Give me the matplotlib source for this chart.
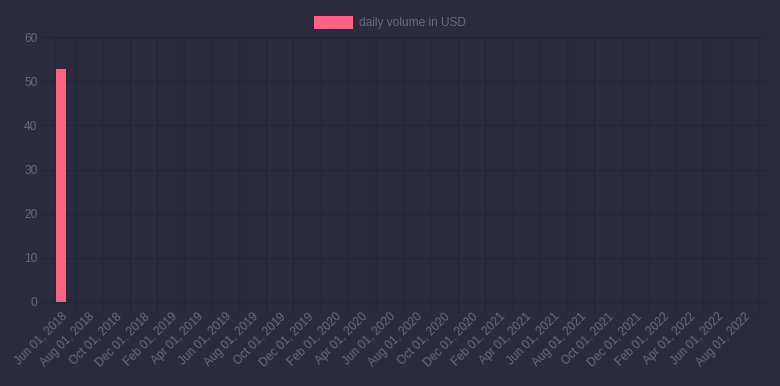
import matplotlib

matplotlib.use("Agg")
import matplotlib.pyplot as plt
import matplotlib.dates as mdates
import numpy as np
import pandas as pd

BG = "#2b2b40"
GRID = "#24243a"
TEXT = "#6b6b78"
BAR = "#ff6384"

plt.rcParams.update({
    "font.family": ["Liberation Sans", "DejaVu Sans"],
    "font.size": 8.6,
})

# data
dates = pd.to_datetime(["2018-06-01"])
volume_usd = [52.7]
series_label = "daily volume in USD"

tick_dates = pd.date_range("2018-06-01", "2022-08-01", freq="2MS")
y_ticks = [0, 10, 20, 30, 40, 50, 60]

fig = plt.figure(figsize=(7.8, 3.86), dpi=100, facecolor=BG)
ax = fig.add_axes([54 / 780, 84 / 386, 711 / 780, 265 / 386])
ax.set_facecolor(BG)

x = mdates.date2num(dates)
ax.bar(x, volume_usd, width=22, color=BAR, zorder=3, label=series_label)

# gridlines sit between the labelled ticks
tnum = mdates.date2num(tick_dates)
last = mdates.date2num(pd.Timestamp("2022-10-01"))
tnum_ext = np.append(tnum, last)
grid_x = (tnum_ext[:-1] + tnum_ext[1:]) / 2
ax.set_xticks(grid_x, minor=True)
ax.set_xticks(tnum)
ax.set_xticklabels([d.strftime("%b %d, %Y") for d in tick_dates],
                   rotation=45, ha="right", rotation_mode="anchor",
                   color=TEXT)
ax.tick_params(axis="x", which="major", length=0, pad=6)
ax.tick_params(axis="x", which="minor", length=8, color=GRID, width=1)
ax.grid(axis="x", which="minor", color=GRID, lw=1, zorder=0)

ax.set_xlim(mdates.date2num(pd.Timestamp("2018-05-16")),
            mdates.date2num(pd.Timestamp("2022-09-16")))

ax.set_ylim(0, 60)
ax.set_yticks(y_ticks)
ax.tick_params(axis="y", length=8, color=GRID, width=1, labelcolor=TEXT, pad=4)
ax.grid(axis="y", color=GRID, lw=1, zorder=0)

for s in ("top", "right"):
    ax.spines[s].set_visible(False)
for s in ("left", "bottom"):
    ax.spines[s].set_color(GRID)
    ax.spines[s].set_linewidth(1)

leg = fig.legend(loc="upper center", bbox_to_anchor=(0.5, 1.0), frameon=False,
                 handlelength=3.3, handleheight=1.3, handletextpad=0.5,
                 fontsize=8.6, labelcolor=TEXT, borderaxespad=0.9)

fig.savefig("out.png", dpi=100, facecolor=BG)
